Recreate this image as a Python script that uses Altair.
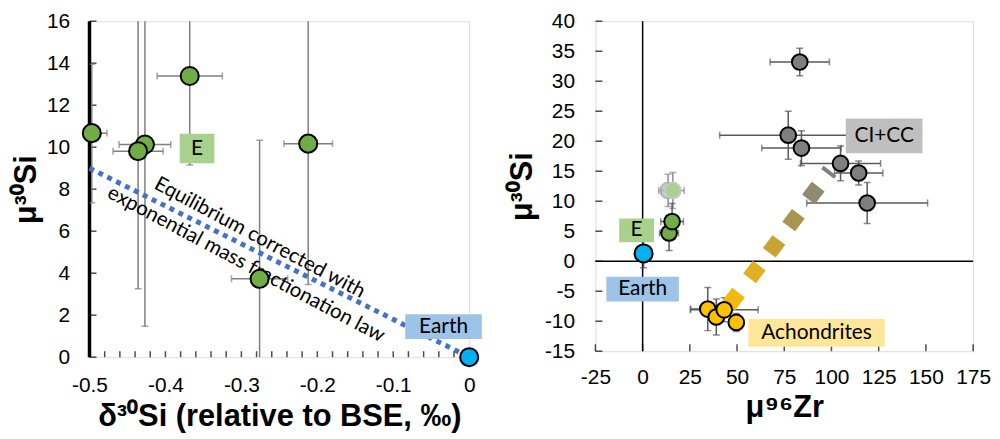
import altair as alt
import pandas as pd
import numpy as np

# ---------------- Left panel data ----------------
L_x = [-0.497, -0.427, -0.436, -0.368, -0.212, -0.276]
L_y = [10.67, 10.13, 9.81, 13.39, 10.17, 3.73]
L_xerr = [0.02, 0.034, 0.033, 0.043, 0.032, 0.037]
L_ylo = [7.35, 1.47, 3.26, 9.15, 3.46, -2.0]
L_yhi = [13.95, 20.0, 20.0, 20.0, 20.0, 10.33]
L_earth_x = [0.0]
L_earth_y = [0.0]
L_trend_x = [-0.5, 0.0]
L_trend_y = [9.0, 0.0]
L_xticks = [-0.5, -0.4, -0.3, -0.2, -0.1, 0.0]
L_yticks = [0, 2, 4, 6, 8, 10, 12, 14, 16]
L_minor_x = list(np.round(np.arange(-0.5, 0.0001, 0.02), 2))
L_text = ["Equilibrium corrected with", "exponential mass fractionation law"]
L_text_x = [-0.276, -0.294]
L_text_y = [5.68, 4.42]
L_lab = ["E", "Earth"]
L_lab_x1 = [-0.3813, -0.0842]
L_lab_x2 = [-0.3355, 0.0166]
L_lab_y1 = [10.64, 2.04]
L_lab_y2 = [9.23, 0.86]
L_lab_col = ["#a9d18e", "#9dc3e6"]

# ---------------- Right panel data ----------------
G_x = [83.2, 77.1, 84.1, 104.8, 114.4, 118.9]
G_y = [33.2, 21.0, 18.85, 16.3, 14.7, 9.7]
G_xerr = [15.7, 36.3, 21.0, 21.2, 12.8, 32.0]
G_yerr = [2.3, 4.0, 2.9, 2.9, 2.0, 3.4]
E_x = [14.0, 15.6]
E_y = [4.7, 6.6]
E_xerr = [5.0, 6.0]
E_yerr = [2.9, 3.0]
EF_x = [13.5, 16.0]
EF_y = [11.8, 11.8]
EF_xerr = [5.0, 6.0]
EF_yerr = [2.7, 3.0]
A_x = [34.5, 39.0, 43.2, 49.6]
A_y = [-7.97, -9.3, -8.1, -10.2]
A_xerr = [9.0, 3.0, 18.0, 3.0]
A_yerr = [3.6, 3.0, 2.0, 1.5]
R_earth_x = [0.5]
R_earth_y = [1.3]
R_earth_yerr = [2.4]
T_x = [48.2, 59.2, 69.6, 79.9, 90.4]
T_y = [-6.3, -1.8, 2.47, 6.85, 11.37]
T_col = ["#f3b90c", "#e1b022", "#c9a434", "#aa954f", "#908a6e"]
T_end_x = [95.2, 102.0]
T_end_y = [15.65, 14.0]
R_xticks = [-25, 0, 25, 50, 75, 100, 125, 150, 175]
R_yticks = [-15, -10, -5, 0, 5, 10, 15, 20, 25, 30, 35, 40]
R_lab = ["CI+CC", "E", "Earth", "Achondrites"]
R_lab_x1 = [107.6, -12.4, -19.2, 56.0]
R_lab_x2 = [148.2, 6.05, 19.2, 128.2]
R_lab_y1 = [23.77, 7.13, -2.59, -9.64]
R_lab_y2 = [18.01, 3.18, -6.71, -14.25]
R_lab_col = ["#bfbfbf", "#a9d18e", "#9dc3e6", "#ffe699"]

TICKFONT = "Liberation Sans"
LABFONT = "Lato"


def axis(title, values, expr, pad, tpad):
    return alt.Axis(
        title=title, values=values, labelExpr=expr, grid=False, ticks=False,
        domain=False, labelFont=TICKFONT, labelFontSize=21, labelColor="black",
        labelPadding=pad, labelOverlap=False, labelFlush=False,
        titleFont="Liberation Sans", titleFontSize=31,
        titleFontWeight="bold", titleColor="black", titlePadding=tpad,
    )


def err_layers(df, X, Y, color, xerr=True, yerr=True):
    layers = []
    if yerr:
        layers.append(alt.Chart(df).mark_rule(color=color, strokeWidth=1.5, clip=True).encode(
            x=X("x:Q"), y=Y("ylo:Q"), y2="yhi:Q"))
        layers.append(alt.Chart(df).transform_fold(["ylo", "yhi"], as_=["k", "v"]).mark_tick(
            orient="horizontal", size=7, thickness=1.5, color=color, clip=True).encode(
            x=X("x:Q"), y=Y("v:Q")))
    if xerr:
        layers.append(alt.Chart(df).mark_rule(color=color, strokeWidth=1.5, clip=True).encode(
            y=Y("y:Q"), x=X("xlo:Q"), x2="xhi:Q"))
        layers.append(alt.Chart(df).transform_fold(["xlo", "xhi"], as_=["k", "v"]).mark_tick(
            orient="vertical", size=7, thickness=1.5, color=color, clip=True).encode(
            y=Y("y:Q"), x=X("v:Q")))
    return layers


# ================= LEFT PANEL =================
LW, LH = 382, 338
lxs = alt.Scale(domain=[-0.5, 0], nice=False, zero=False)
lys = alt.Scale(domain=[0, 16], nice=False, zero=False)
lxa = axis("δ³⁰Si (relative to BSE, ‰)", L_xticks,
           "datum.value < 0 ? '-' + format(-datum.value, '.1f') : '0'", 18, 6)
lya = axis("μ³⁰Si", L_yticks, "format(datum.value, 'd')", 20, 4)


def LX(f):
    return alt.X(f, scale=lxs, axis=lxa)


def LY(f):
    return alt.Y(f, scale=lys, axis=lya)


ldf = pd.DataFrame({"x": L_x, "y": L_y})
ldf["xlo"] = [a - b for a, b in zip(L_x, L_xerr)]
ldf["xhi"] = [a + b for a, b in zip(L_x, L_xerr)]
ldf["ylo"] = L_ylo
ldf["yhi"] = L_yhi

l_layers = []
l_layers.append(alt.Chart(pd.DataFrame({"t": L_yticks})).mark_tick(
    orient="horizontal", size=7, thickness=1.5, color="black").encode(
    y=LY("t:Q"), x=alt.value(3.5)))
l_layers.append(alt.Chart(pd.DataFrame({"t": L_minor_x})).mark_tick(
    orient="vertical", size=6, thickness=1.5, color="black").encode(
    x=LX("t:Q"), y=alt.value(LH - 3)))
l_layers.append(alt.Chart(pd.DataFrame({"z": [-0.5]})).mark_rule(color="black", strokeWidth=3.5).encode(
    x=LX("z:Q")))
l_layers += err_layers(ldf, LX, LY, "#7f7f7f")
l_layers.append(alt.Chart(pd.DataFrame({"x": L_trend_x, "y": L_trend_y})).mark_line(
    color="#4472c4", strokeWidth=5, strokeDash=[5, 5]).encode(x=LX("x:Q"), y=LY("y:Q")))
l_layers.append(alt.Chart(pd.DataFrame({"x": L_text_x, "y": L_text_y, "t": L_text})).mark_text(
    angle=28, font=LABFONT, fontSize=20.5, color="black", align="center", baseline="middle").encode(
    x=LX("x:Q"), y=LY("y:Q"), text="t:N"))
l_layers.append(alt.Chart(ldf).mark_point(
    shape="circle", filled=True, size=330, fill="#70ad47", stroke="black", strokeWidth=2, opacity=1).encode(
    x=LX("x:Q"), y=LY("y:Q")))
ldl = pd.DataFrame({"x1": L_lab_x1, "x2": L_lab_x2, "y1": L_lab_y1, "y2": L_lab_y2,
                    "lab": L_lab, "c": L_lab_col})
ldl["xm"] = (ldl["x1"] + ldl["x2"]) / 2
ldl["ym"] = (ldl["y1"] + ldl["y2"]) / 2
l_layers.append(alt.Chart(ldl).mark_rect().encode(
    x=LX("x1:Q"), x2="x2:Q", y=LY("y1:Q"), y2="y2:Q",
    color=alt.Color("c:N", scale=None)))
l_layers.append(alt.Chart(ldl).mark_text(font=LABFONT, fontSize=21, color="black",
                                         baseline="middle").encode(
    x=LX("xm:Q"), y=LY("ym:Q"), text="lab:N"))
l_layers.append(alt.Chart(pd.DataFrame({"x": L_earth_x, "y": L_earth_y})).mark_point(
    shape="circle", filled=True, size=330, fill="#00b0f0", stroke="black", strokeWidth=2, opacity=1).encode(
    x=LX("x:Q"), y=LY("y:Q")))

left = alt.layer(*l_layers).properties(width=LW, height=LH)

# ================= RIGHT PANEL =================
RW, RH = 380, 332
rxs = alt.Scale(domain=[-25, 175], nice=False, zero=False)
rys = alt.Scale(domain=[-15, 40], nice=False, zero=False)
rxa = axis("μ⁹⁶Zr", R_xticks,
           "datum.value < 0 ? '-' + format(-datum.value, 'd') : format(datum.value, 'd')", 15, 6)
rya = axis("μ³⁰Si", R_yticks,
           "datum.value < 0 ? '-' + format(-datum.value, 'd') : format(datum.value, 'd')", 21, 6)


def RX(f):
    return alt.X(f, scale=rxs, axis=rxa)


def RY(f):
    return alt.Y(f, scale=rys, axis=rya)


def mkdf(xs, ys, xe, ye):
    d = pd.DataFrame({"x": xs, "y": ys})
    d["xlo"] = [a - b for a, b in zip(xs, xe)]
    d["xhi"] = [a + b for a, b in zip(xs, xe)]
    d["ylo"] = [a - b for a, b in zip(ys, ye)]
    d["yhi"] = [a + b for a, b in zip(ys, ye)]
    return d


gdf = mkdf(G_x, G_y, G_xerr, G_yerr)
edf = mkdf(E_x, E_y, E_xerr, E_yerr)
efdf = mkdf(EF_x, EF_y, EF_xerr, EF_yerr)
adf = mkdf(A_x, A_y, A_xerr, A_yerr)
rearth = mkdf(R_earth_x, R_earth_y, [0.0], R_earth_yerr)

r_layers = []
r_layers.append(alt.Chart(pd.DataFrame({"t": R_yticks})).mark_tick(
    orient="horizontal", size=7, thickness=1.5, color="black").encode(
    y=RY("t:Q"), x=alt.value(3.5)))
r_layers.append(alt.Chart(pd.DataFrame({"t": R_xticks})).mark_tick(
    orient="vertical", size=7, thickness=1.5, color="black").encode(
    x=RX("t:Q"), y=alt.value(RH - 3.5)))
r_layers.append(alt.Chart(pd.DataFrame({"z": [0]})).mark_rule(color="black", strokeWidth=1.5).encode(
    y=RY("z:Q")))
r_layers.append(alt.Chart(pd.DataFrame({"z": [0]})).mark_rule(color="black", strokeWidth=1.5).encode(
    x=RX("z:Q")))
ERRC = "#5a5a5a"
r_layers += err_layers(gdf, RX, RY, ERRC)
r_layers += err_layers(efdf, RX, RY, "#8c8c8c")
r_layers += err_layers(edf, RX, RY, ERRC)
r_layers += err_layers(adf, RX, RY, ERRC)
r_layers += err_layers(rearth, RX, RY, ERRC, xerr=False)
# trend (thick dashes)
tdf = pd.DataFrame({"x": T_x, "y": T_y, "c": T_col})
r_layers.append(alt.Chart(tdf).mark_point(shape="square", filled=True, size=260, angle=37, opacity=1).encode(
    x=RX("x:Q"), y=RY("y:Q"), color=alt.Color("c:N", scale=None)))
r_layers.append(alt.Chart(pd.DataFrame({"x": T_end_x, "y": T_end_y})).mark_line(
    color="#808080", strokeWidth=4).encode(x=RX("x:Q"), y=RY("y:Q")))
# points
r_layers.append(alt.Chart(gdf).mark_point(
    shape="circle", filled=True, size=250, fill="#7f7f7f", stroke="black", strokeWidth=2, opacity=1).encode(
    x=RX("x:Q"), y=RY("y:Q")))
r_layers.append(alt.Chart(efdf.iloc[[0]]).mark_point(
    shape="circle", filled=True, size=250, fill="#bfbfbf", stroke="#a6a6a6", strokeWidth=2, opacity=0.8).encode(
    x=RX("x:Q"), y=RY("y:Q")))
r_layers.append(alt.Chart(efdf.iloc[[1]]).mark_point(
    shape="circle", filled=True, size=250, fill="#a9d18e", stroke="#c8c8c8", strokeWidth=2, opacity=1).encode(
    x=RX("x:Q"), y=RY("y:Q")))
r_layers.append(alt.Chart(edf).mark_point(
    shape="circle", filled=True, size=250, fill="#70ad47", stroke="black", strokeWidth=2, opacity=1).encode(
    x=RX("x:Q"), y=RY("y:Q")))
r_layers.append(alt.Chart(adf).mark_point(
    shape="circle", filled=True, size=250, fill="#ffc000", stroke="black", strokeWidth=2, opacity=1).encode(
    x=RX("x:Q"), y=RY("y:Q")))
r_layers.append(alt.Chart(rearth).mark_point(
    shape="circle", filled=True, size=330, fill="#00b0f0", stroke="black", strokeWidth=2, opacity=1).encode(
    x=RX("x:Q"), y=RY("y:Q")))
rdl = pd.DataFrame({"x1": R_lab_x1, "x2": R_lab_x2, "y1": R_lab_y1, "y2": R_lab_y2,
                    "lab": R_lab, "c": R_lab_col})
rdl["xm"] = (rdl["x1"] + rdl["x2"]) / 2
rdl["ym"] = (rdl["y1"] + rdl["y2"]) / 2
r_layers.append(alt.Chart(rdl).mark_rect().encode(
    x=RX("x1:Q"), x2="x2:Q", y=RY("y1:Q"), y2="y2:Q",
    color=alt.Color("c:N", scale=None)))
r_layers.append(alt.Chart(rdl).mark_text(font=LABFONT, fontSize=21, color="black",
                                         baseline="middle").encode(
    x=RX("xm:Q"), y=RY("ym:Q"), text="lab:N"))

right = alt.layer(*r_layers).properties(width=RW, height=RH)

chart = alt.hconcat(left, right, spacing=127, bounds="flush").properties(
    padding={"left": 2, "top": 0, "right": 0, "bottom": 0}
).configure_view(stroke="black", strokeWidth=2).configure(background="white")

chart.save("out.html", embed_options={"renderer": "svg", "actions": False})
